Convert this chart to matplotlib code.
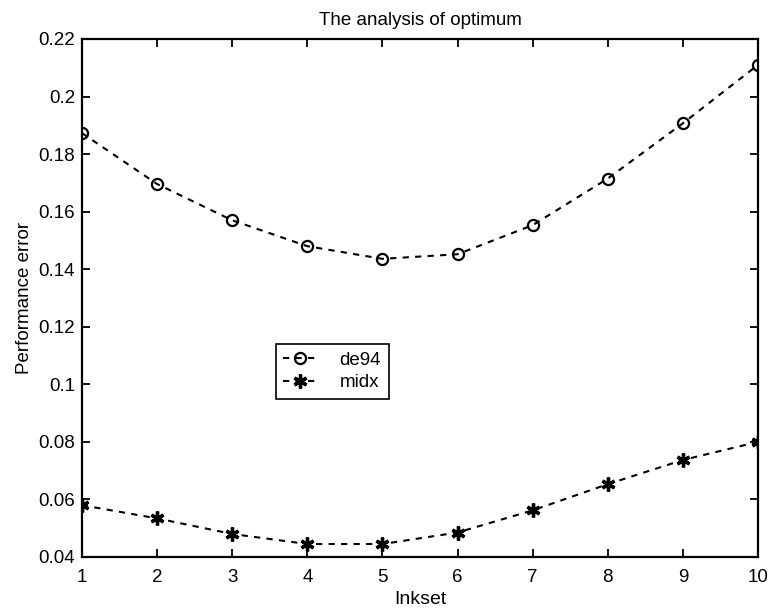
import numpy as np, matplotlib
matplotlib.use("Agg"); import matplotlib.pyplot as plt

plt.rcParams['font.family'] = ['Liberation Sans', 'DejaVu Sans']

inkset = [1, 2, 3, 4, 5, 6, 7, 8, 9, 10]
de94 = [0.1873, 0.1696, 0.1570, 0.1480, 0.1436, 0.1452, 0.1553, 0.1715, 0.1907, 0.2110]
midx = [0.0580, 0.0534, 0.0480, 0.0445, 0.0445, 0.0485, 0.0562, 0.0653, 0.0737, 0.0800]
yticks = [0.04, 0.06, 0.08, 0.1, 0.12, 0.14, 0.16, 0.18, 0.2, 0.22]

fig = plt.figure(figsize=(7.69, 6.13), dpi=100)
ax = fig.add_axes([0.1066, 0.0914, 0.8791, 0.845])

asterisk = (6, 2, 0)
ax.plot(inkset, de94, color='k', ls=(0, (3, 3)), marker='o', mfc='none', mec='k',
        ms=8, mew=1.6, lw=1.5, label='de94')
ax.plot(inkset, midx, color='k', ls=(0, (3, 3)), marker=asterisk, mfc='k', mec='k',
        ms=10, mew=2.4, lw=1.5, label='midx')

ax.set_xlim(1, 10); ax.set_ylim(0.04, 0.22)
ax.set_xticks(inkset)
ax.set_yticks(yticks)
ax.set_yticklabels([f"{v:g}" for v in yticks])
ax.tick_params(direction='in', top=True, right=True, length=6, width=1.3,
               labelsize=13.5, pad=5)
ax.tick_params(axis='x', pad=9)
for s in ax.spines.values():
    s.set_linewidth(1.6)

ax.set_title("The analysis of optimum", fontsize=13.5, pad=10)
ax.set_xlabel("Inkset", fontsize=14, labelpad=3)
ax.set_ylabel("Performance error", fontsize=13.5, labelpad=4)

leg = ax.legend(loc='upper left', bbox_to_anchor=(0.287, 0.411), fancybox=False,
                edgecolor='k', fontsize=13.5, handlelength=1.8, handletextpad=1.2,
                borderpad=0.4, borderaxespad=0, labelspacing=0.3, framealpha=1)
leg.get_frame().set_linewidth(1.2)

fig.savefig("out.png", dpi=100)
